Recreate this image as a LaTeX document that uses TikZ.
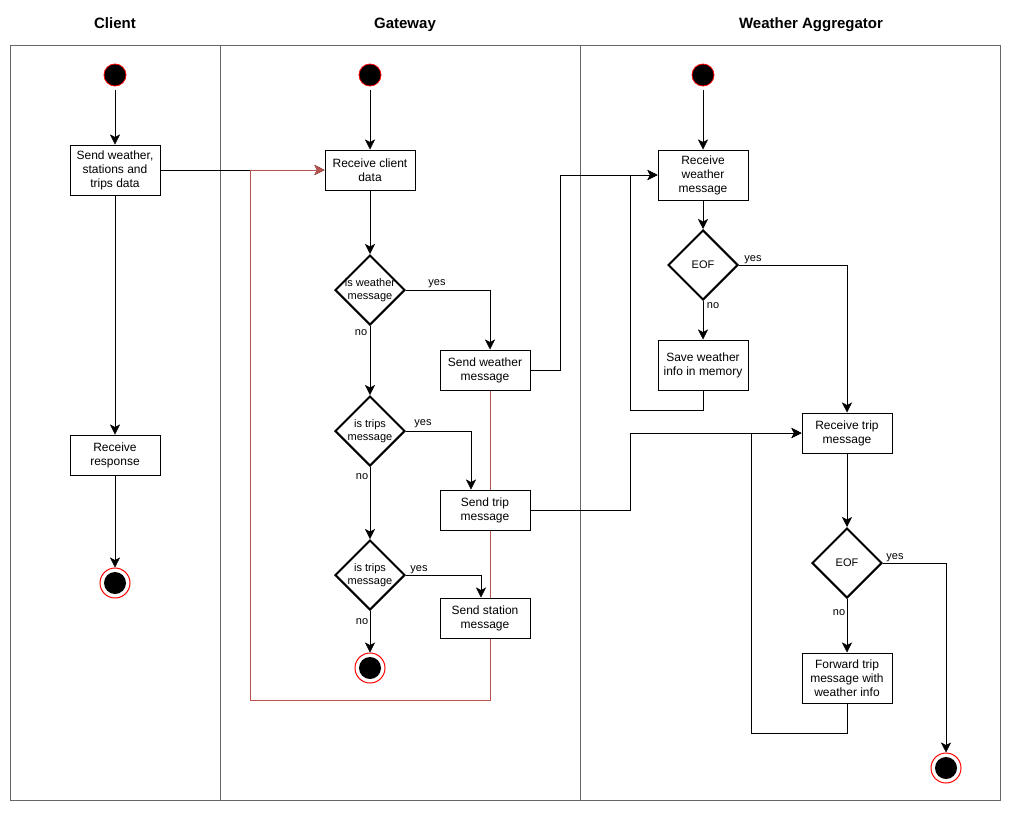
\documentclass[tikz,border=0pt]{standalone}
\usepackage{fontspec}
\setmainfont{Liberation Sans}
\usetikzlibrary{arrows.meta,shapes.geometric,backgrounds}
\definecolor{lanegray}{HTML}{666666}
\definecolor{flowred}{HTML}{B85450}
\begin{document}
\begin{tikzpicture}[x=1pt,y=-1pt,
  lane/.style={draw=lanegray,line width=1pt},
  head/.style={font=\fontsize{15}{18}\selectfont\bfseries,inner sep=0pt,anchor=base},
  act/.style={draw,line width=1pt,fill=white,minimum width=90pt,align=center,inner sep=0pt,font=\fontsize{12}{14}\selectfont},
  dia/.style={diamond,draw,line width=2pt,fill=white,minimum width=70pt,minimum height=70pt,inner sep=0pt},
  diatext/.style={align=center,font=\fontsize{11}{13}\selectfont,inner sep=0pt},
  startnode/.style={circle,draw=red,fill=black,minimum size=22pt,inner sep=0pt,line width=0.8pt},
  endnode/.style={circle,draw=red,fill=white,minimum size=30pt,inner sep=0pt,line width=1pt,
    path picture={\fill[black] (path picture bounding box.center) circle (11pt);}},
  flow/.style={line width=1pt,-{Stealth[length=10pt,width=10pt,inset=2.5pt,line width=0.5pt]}},
  link/.style={line width=1pt},
  tag/.style={font=\fontsize{11}{13}\selectfont,inner sep=0pt,anchor=base},
]
\useasboundingbox (0,0) rectangle (1012,812);

% lane headers
\node[head] (hclient) at (115,28) {Client};
\node[head] (hgate) at (405,28) {Gateway};
\node[head] (hagg) at (811,28) {Weather Aggregator};

% ---- Client
\node[startnode] (cs) at (115,75) {};
\node[act,minimum height=50pt] (cb) at (115,170) {Send weather,\\stations and\\trips data};
\node[act,minimum height=40pt] (cr) at (115,455) {Receive\\response};
\node[endnode] (ce) at (115,583) {};

% ---- Gateway
\node[startnode] (gs) at (370,75) {};
\node[act,minimum height=40pt] (rc) at (370,170) {Receive client\\data};
\node[dia,label={[diatext]center:is weather\\message}] (d1) at (370,290) {};
\node[dia,label={[diatext]center:is trips\\message}] (d2) at (370,431) {};
\node[dia,label={[diatext]center:is trips\\message}] (d3) at (370,575) {};
\node[act,minimum height=40pt] (sw) at (485,370) {Send weather\\message};
\node[act,minimum height=40pt] (st) at (485,510) {Send trip\\message};
\node[act,minimum height=40pt] (ss) at (485,618) {Send station\\message};
\node[endnode] (ge) at (370,668) {};

% ---- Weather Aggregator
\node[startnode] (as) at (703,75) {};
\node[act,minimum height=50pt] (rw) at (703,175) {Receive\\weather\\message};
\node[dia,label={[diatext]center:EOF}] (e1) at (703,265) {};
\node[act,minimum height=50pt] (sv) at (703,365) {Save weather\\info in memory};
\node[act,minimum height=40pt] (rt) at (847,433) {Receive trip\\message};
\node[dia,label={[diatext]center:EOF}] (e2) at (847,563) {};
\node[act,minimum height=50pt] (fw) at (847,678) {Forward trip\\message with\\weather info};
\node[endnode] (ae) at (946,768) {};

\begin{scope}[on background layer]
  % swimlane frame
  \draw[lane] (10,45) rectangle (1000,800);
  \draw[lane] (220,45) -- (220,800);
  \draw[lane] (580,45) -- (580,800);
  % client data into the gateway, and the gateway's return path
  \draw[flow] (cb.east) -- (rc.west);
  \draw[flow,draw=flowred] ([xshift=5]sw.south) |- (250,700) |- (rc.west);
\end{scope}

% client flow
\draw[flow] ([yshift=-4]cs.south) -- (cb);
\draw[flow] (cb) -- (cr);
\draw[flow] (cr) -- (ce);

% gateway flow
\draw[flow] ([yshift=-4]gs.south) -- (rc);
\draw[flow] (rc) -- (d1);
\draw[flow] (d1.east) -| ([xshift=5]sw.north);
\draw[flow] (d1.south) -- (d2.north);
\draw[flow] (d2.east) -| ([xshift=-14]st.north);
\draw[flow] (d2.south) -- (d3.north);
\draw[flow] (d3.east) -| ([xshift=-4]ss.north);
\draw[flow] (d3.south) -- (ge);

% messages into the aggregator
\draw[flow] (sw.east) -- ++(30,0) |- (rw.west);
\draw[flow] (st.east) -- ++(100,0) |- (rt.west);

% aggregator flow
\draw[flow] ([yshift=-4]as.south) -- (rw);
\draw[flow] (rw) -- (e1);
\draw[flow] (e1.south) -- (sv.north);
\draw[flow] (e1.east) -| (rt.north);
\draw[flow] (sv.south) -- ++(0,20) -| (630,175) -- (rw.west);
\draw[flow] (rt) -- (e2);
\draw[flow] (e2.south) -- (fw.north);
\draw[flow] (e2.east) -| (ae.north);
\draw[flow] (fw.south) -- ++(0,30) -| (751,433) -- (rt.west);

% branch labels
\node[tag] (y1) at (437,285) {yes};
\node[tag] (n1) at (361,335) {no};
\node[tag] (y2) at (423,425) {yes};
\node[tag] (n2) at (362,479) {no};
\node[tag] (y3) at (419,571) {yes};
\node[tag] (n3) at (362,624) {no};
\node[tag] (y4) at (753,261) {yes};
\node[tag] (n4) at (713,308) {no};
\node[tag] (y5) at (895,559) {yes};
\node[tag] (n5) at (839,615) {no};
\end{tikzpicture}
\end{document}
